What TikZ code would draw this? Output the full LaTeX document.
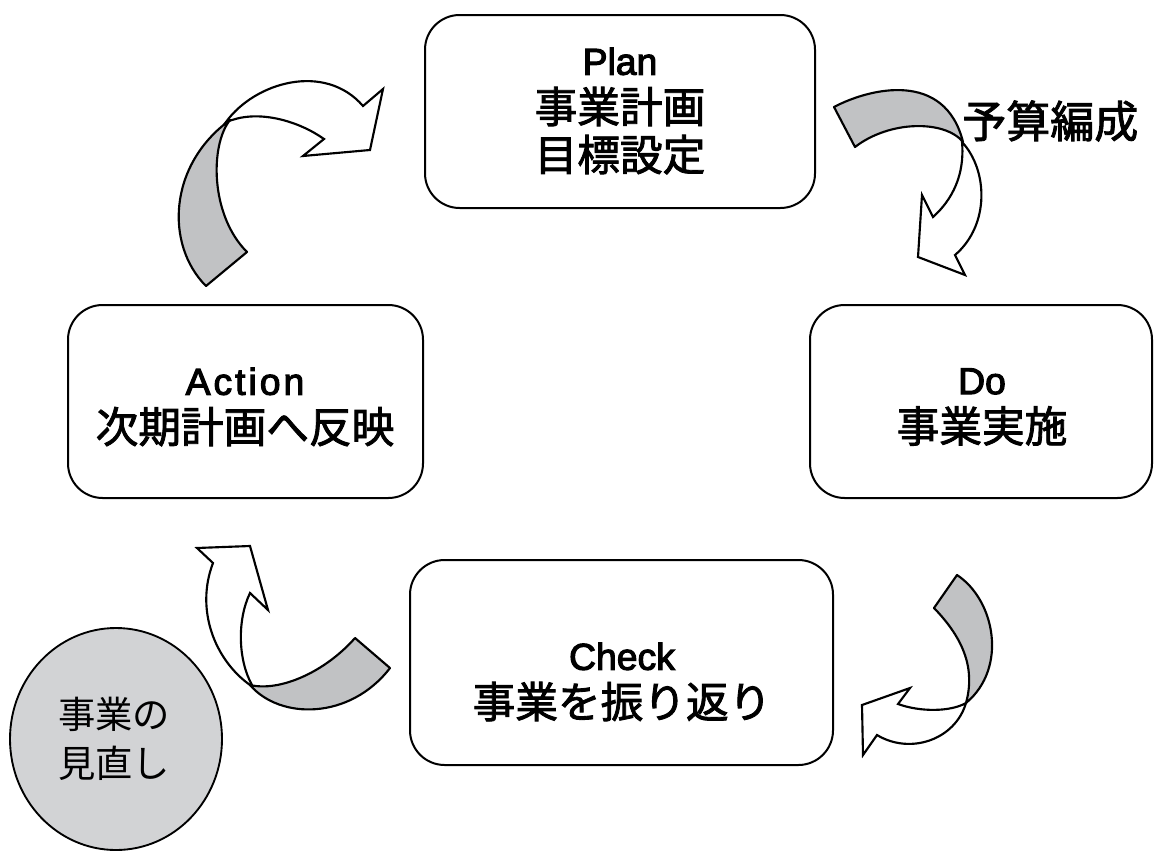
\documentclass[tikz,border=0pt]{standalone}
\usepackage{fontspec}
\setmainfont{Liberation Sans}
\newfontfamily\cjk{Noto Sans CJK JP}[FakeBold=2]
\newfontfamily\cjkr{Noto Sans CJK JP}
\newfontfamily\latinf{Liberation Sans}[FakeBold=3]
\usetikzlibrary{shapes.geometric}
\definecolor{arrowgray}{RGB}{193,194,196}
\definecolor{circlegray}{RGB}{210,211,213}
\newcommand{\lat}[1]{{\latinf\fontsize{28}{36}\selectfont #1}}
\newcommand{\latw}[1]{{\latinf\addfontfeature{LetterSpace=8}\fontsize{28}{36}\selectfont #1}}
\tikzset{
  box/.style={draw, line width=1.5pt, rounded corners=26pt, fill=white, inner sep=0pt},
  lbl/.style={align=center, inner sep=0pt, font=\cjk\fontsize{32}{36}\selectfont},
  whitearrow/.style={draw, line width=1.6pt, fill=white, line join=miter},
  grayband/.style={draw, line width=1.6pt, fill=arrowgray, line join=round},
}
\begin{document}
\begin{tikzpicture}[x=0.75pt,y=-0.75pt]
\useasboundingbox (0,0) rectangle (1155,853);

% boxes
\node[box, minimum width=292.5pt, minimum height=144.75pt] (plan) at (620,111.5) {};
\node[box, minimum width=266.25pt, minimum height=144.75pt] (action) at (245.5,401.5) {};
\node[box, minimum width=256.5pt, minimum height=144.75pt] (do) at (981,401.5) {};
\node[box, minimum width=317.25pt, minimum height=153.75pt] (check) at (621.5,662.5) {};

% texts
\node[lbl] (plantext) at (620,111) {\lat{Plan}\\事業計画\\目標設定};
\node[lbl] (actiontext) at (245,407) {\latw{Action}\\次期計画へ反映};
\node[lbl] (dotext) at (982,407) {\lat{Do}\\事業実施};
\node[lbl] (checktext) at (622,682) {\lat{Check}\\事業を振り返り};
\node[lbl, anchor=west, font=\cjk\fontsize{33}{36}\selectfont] (budget) at (962,121) {予算編成};

% review circle
\clip (0,0) rectangle (1155,853);
\node[ellipse, draw, line width=1.4pt, fill=circlegray, minimum width=159pt, minimum height=166.5pt, inner sep=0pt] (review) at (116,739) {};
\node[align=center, inner sep=0pt, font=\cjkr\fontsize{28}{36.75}\selectfont] (reviewtext) at (114,739) {事業の\\見直し};

% arrow 1: Action -> Plan
\path[whitearrow] (226,122) .. controls (255,82) and (325,62) .. (363,106) -- (383,89) -- (370,150) -- (303,156) -- (324,139) .. controls (300,122) and (262,110) .. (232,120) -- cycle;
\path[grayband] (206,286) .. controls (165,245) and (168,165) .. (230,120) .. controls (210,145) and (210,215) .. (247,252) -- cycle;

% arrow 2: Plan -> Do
\path[whitearrow] (962,142) .. controls (965,175) and (952,200) .. (933,217) -- (922,195) -- (918,257) -- (965,275) -- (955,255) .. controls (990,225) and (988,170) .. (962,142) -- cycle;
\path[grayband] (834,107) .. controls (870,88) and (945,70) .. (963,142) .. controls (945,120) and (890,120) .. (855,147) -- cycle;

% arrow 3: Do -> Check
\path[whitearrow] (966,703) .. controls (955,740) and (910,755) .. (877,735) -- (863,755) -- (862,705) -- (910,688) -- (898,704) .. controls (920,712) and (950,712) .. (966,703) -- cycle;
\path[grayband] (957,575) .. controls (995,600) and (1008,668) .. (966,703) .. controls (975,670) and (965,640) .. (934,608) -- cycle;

% arrow 4: Check -> Action
\path[whitearrow] (250,685) .. controls (215,660) and (195,610) .. (213,563) -- (197,548) -- (250,546) -- (268,610) -- (250,593) .. controls (237,620) and (238,660) .. (252,685) -- cycle;
\path[grayband] (355,638) .. controls (325,672) and (280,692) .. (250,685) .. controls (280,720) and (350,720) .. (390,668) -- cycle;
\end{tikzpicture}
\end{document}
